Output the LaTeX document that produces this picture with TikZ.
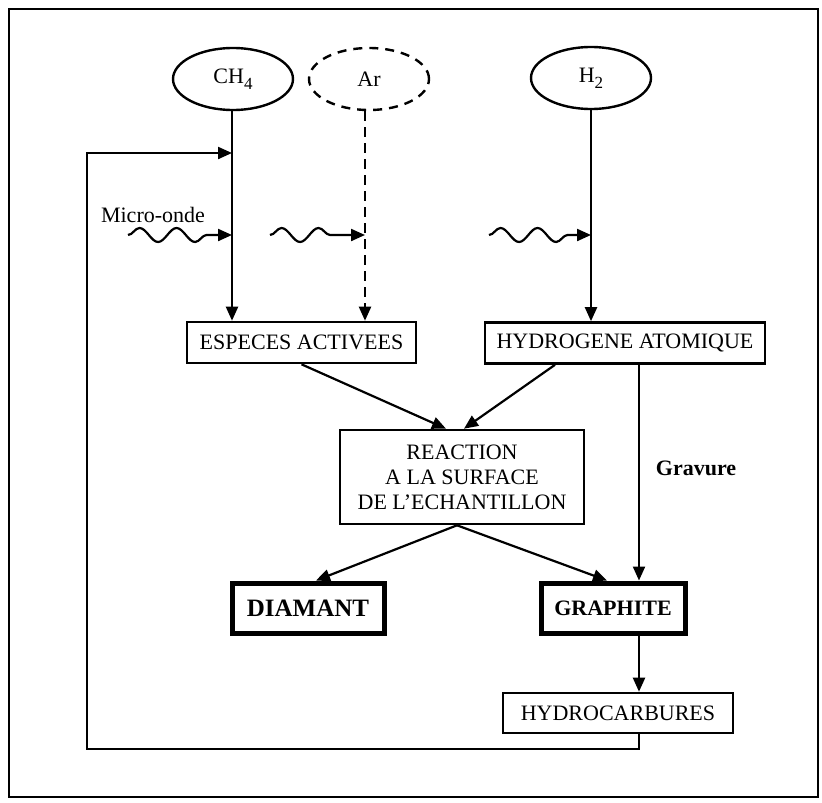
\documentclass[tikz,border=0pt]{standalone}
\usepackage{fontspec}
\setmainfont{Liberation Serif}
\usetikzlibrary{shapes.geometric,arrows.meta,decorations.pathmorphing}
\newcommand{\lowsub}[1]{\raisebox{-6pt}{\fontsize{17}{17}\selectfont #1}}
\begin{document}
\begin{tikzpicture}[x=1pt,y=-1pt,
  txt/.style={font=\fontsize{22}{25}\selectfont},
  gas/.style={ellipse, draw, line width=2.4pt, minimum width=120pt, minimum height=62pt, inner sep=0pt, txt},
  box/.style={draw, line width=2.6pt, inner sep=0pt, txt},
  boldbox/.style={draw, line width=5pt, inner sep=0pt, font=\fontsize{22}{25}\selectfont\bfseries},
  arr/.style={line width=2.2pt, -{Triangle[length=14pt,width=12pt]}},
  wave/.style={arr, decorate, decoration={snake, amplitude=7pt, segment length=37pt, post length=22pt}}]
\useasboundingbox[fill=white] (0,0) rectangle (822,803);
\draw[line width=2.4pt] (9,9) rectangle (818,797);

% gases
\node[gas] (ch4) at (233,79) {CH\lowsub{4}};
\node[gas, dash pattern=on 9pt off 7pt] (ar) at (369,79) {Ar};
\node[gas] (h2) at (591,78) {H\lowsub{2}};

% boxes
\node[box, minimum width=229pt, minimum height=41pt] (esp) at (301.5,342.5) {ESPECES ACTIVEES};
\node[box, minimum width=280pt, minimum height=41pt] (hyd) at (625,343) {HYDROGENE ATOMIQUE};
\node[box, minimum width=244pt, minimum height=94pt, align=center] (reac) at (462,477) {REACTION\\A LA SURFACE\\DE L'ECHANTILLON};
\node[boldbox, minimum width=152pt, minimum height=50pt, font=\fontsize{25}{28}\selectfont\bfseries] (dia) at (308,608) {DIAMANT};
\node[boldbox, minimum width=144pt, minimum height=50pt] (gra) at (613,608) {GRAPHITE};
\node[box, minimum width=230pt, minimum height=40pt] (hc) at (618,713) {HYDROCARBURES};

% labels
\node[txt] (mo) at (153,215) {Micro-onde};
\node[txt, font=\fontsize{22}{25}\selectfont\bfseries] (grav) at (696,468) {Gravure};

% helper coordinates
\coordinate (gv) at (639,0);
\coordinate (fb1) at (87,749);
\coordinate (fb2) at (87,153);
\coordinate (w1) at (128,235);
\coordinate (w2) at (270,235);
\coordinate (w3) at (489,235);

% vertical feeds
\draw[arr] (ch4.south -| 232,0) -- (esp.north -| 232,0);
\draw[arr, dash pattern=on 10pt off 6pt] (ar.south -| 365,0) -- (esp.north -| 365,0);
\draw[arr] (h2.south) -- (hyd.north -| h2.south);

% microwaves
\draw[wave] (w1) -- (w1 -| 232,0);
\draw[wave] (w2) -- (w2 -| 365,0);
\draw[wave] (w3) -- (w3 -| h2.south);

% to reaction
\draw[arr] (esp.south) -- ([xshift=-16pt]reac.north);
\draw[arr] ([xshift=-70pt]hyd.south) -- ([xshift=2pt]reac.north);

% from reaction
\draw[arr] ([xshift=-5pt]reac.south) -- ([xshift=8pt]dia.north);
\draw[arr] ([xshift=-5pt]reac.south) -- ([xshift=-6pt]gra.north);

% gravure and hydrocarbons
\draw[arr] (hyd.south -| gv) -- (gra.north -| gv);
\draw[arr] (gra.south -| gv) -- (hc.north -| gv);

% feedback loop
\draw[arr] (hc.south -| gv) |- (fb1) -- (fb2) -- (fb2 -| 232,0);
\end{tikzpicture}
\end{document}
